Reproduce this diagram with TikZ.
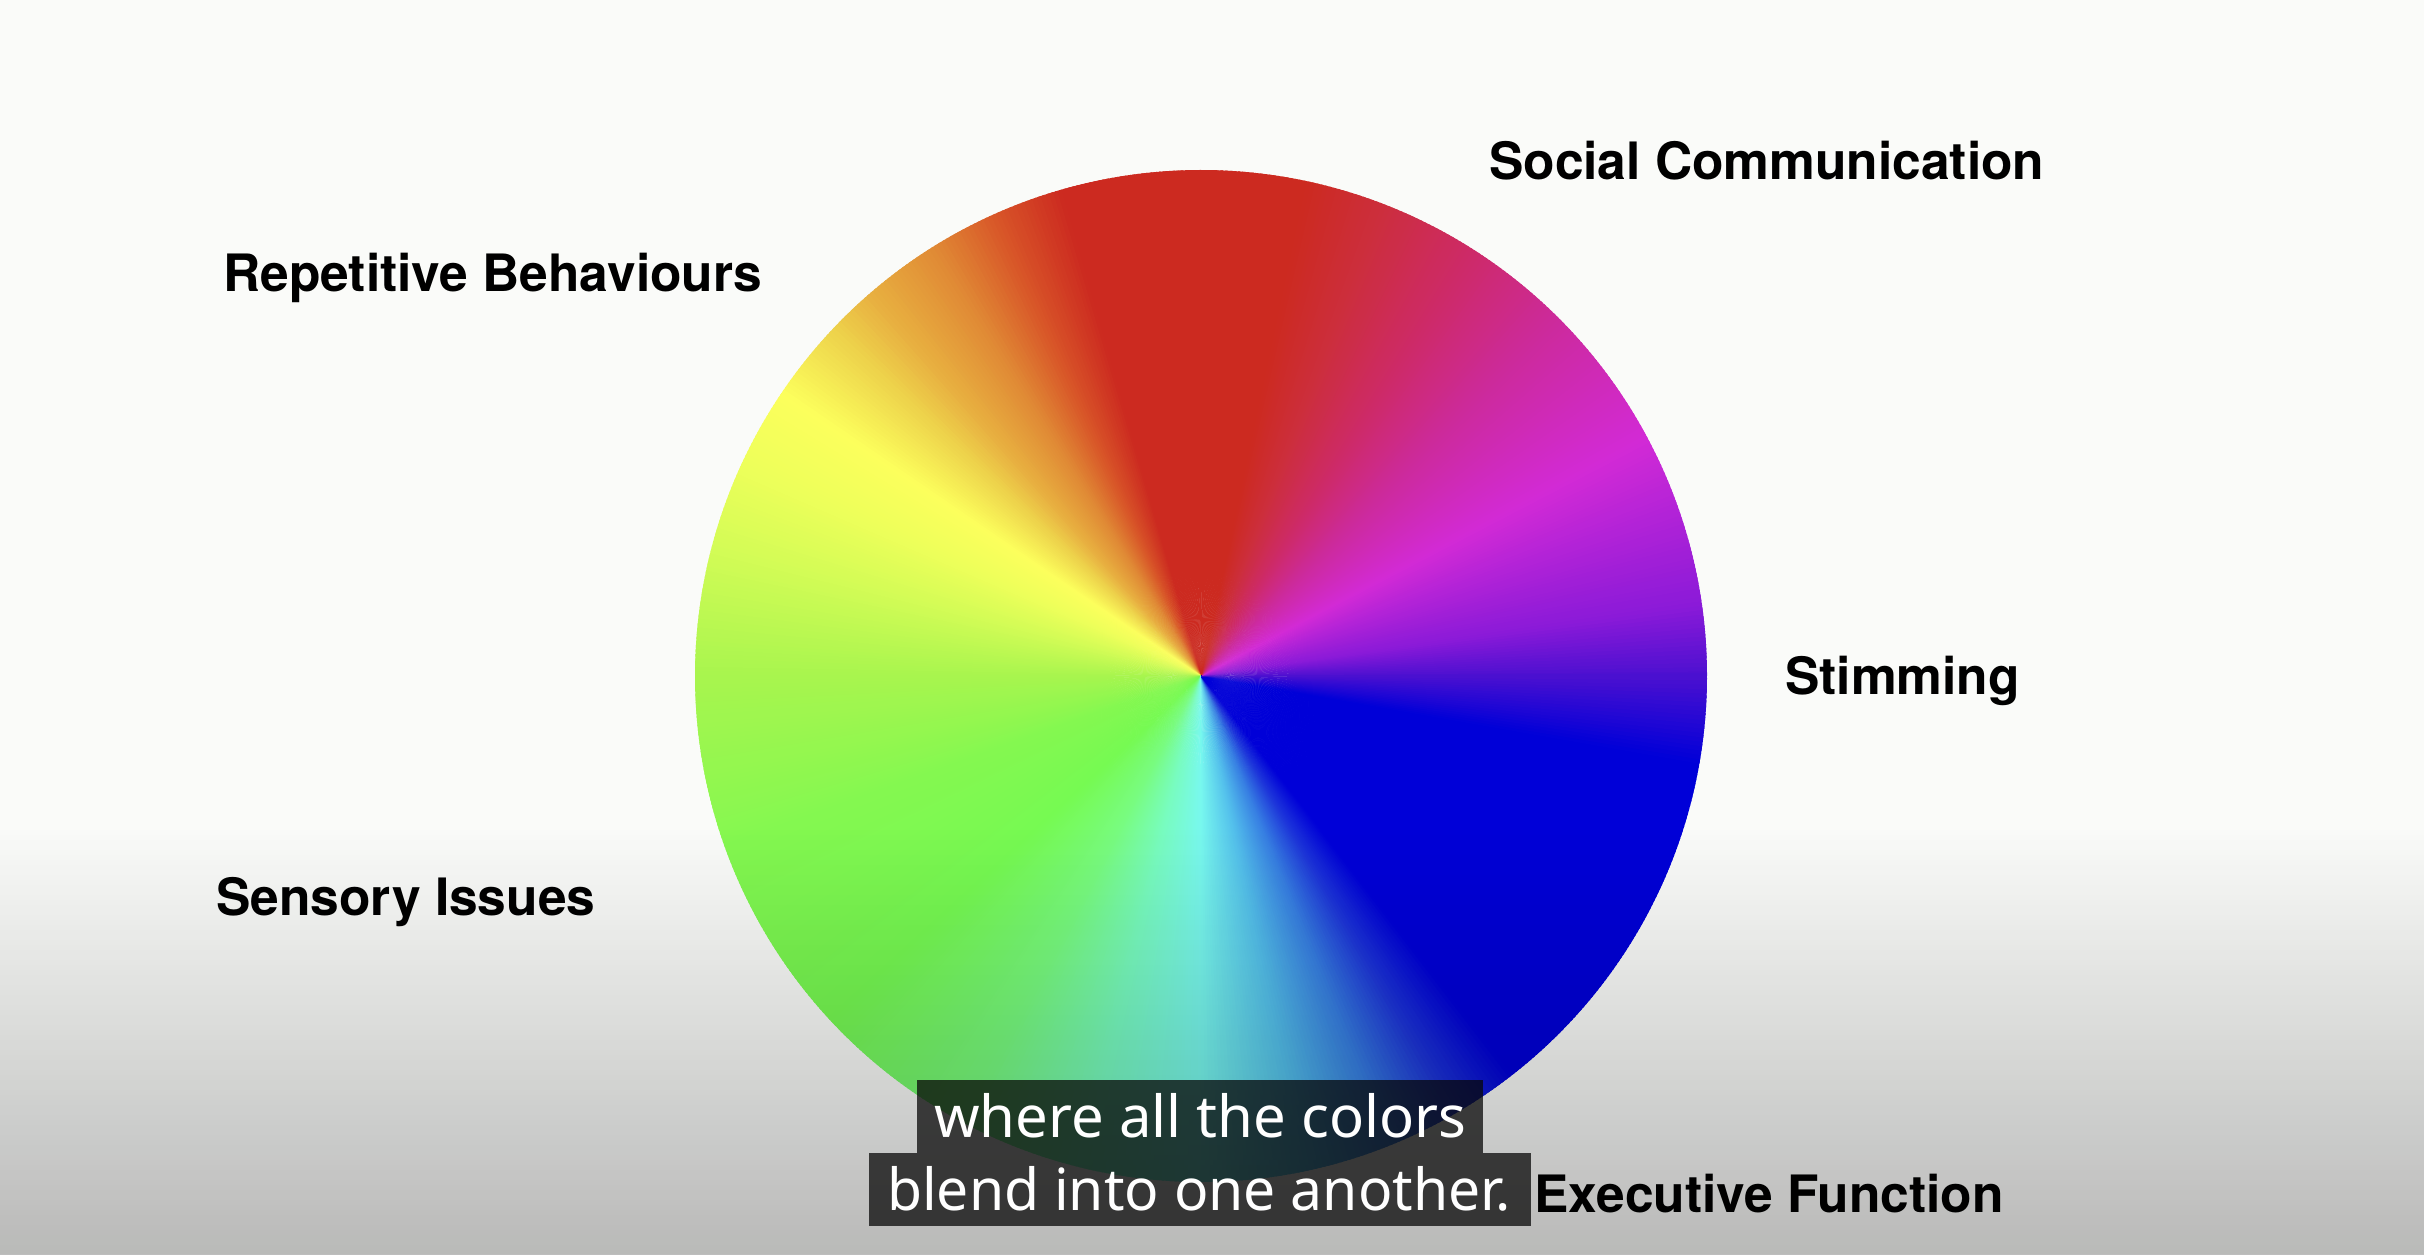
\documentclass[tikz,border=0pt]{standalone}
\usepackage{fontspec}
\setmainfont{TeX Gyre Heros}
\newfontfamily\subfont{Noto Sans}
\usepackage{graphicx}
\definecolor{bgc}{RGB}{250,251,249}
\definecolor{capbg}{RGB}{8,8,8}
\definecolor{s0}{HTML}{4C10D0}
\definecolor{s8}{HTML}{8A1AD8}
\definecolor{s28}{HTML}{D22AD6}
\definecolor{s45}{HTML}{CC2A9C}
\definecolor{s57}{HTML}{CD2A6A}
\definecolor{s69}{HTML}{CC2E3C}
\definecolor{s78}{HTML}{CC2A20}
\definecolor{s106}{HTML}{CC2A20}
\definecolor{s114}{HTML}{D85528}
\definecolor{s122}{HTML}{E08A35}
\definecolor{s131}{HTML}{E8B040}
\definecolor{s137}{HTML}{EED44C}
\definecolor{s146}{HTML}{FCFF5C}
\definecolor{s155}{HTML}{EEFF5A}
\definecolor{s165}{HTML}{D4FC56}
\definecolor{s180}{HTML}{A8F54E}
\definecolor{s200}{HTML}{84F850}
\definecolor{s223}{HTML}{76FA52}
\definecolor{s242}{HTML}{78FC80}
\definecolor{s256}{HTML}{78FCBF}
\definecolor{s270}{HTML}{78F8EE}
\definecolor{s282}{HTML}{54C1EC}
\definecolor{s292}{HTML}{377FE3}
\definecolor{s300}{HTML}{1E37DA}
\definecolor{s308}{HTML}{0000D8}
\definecolor{s350}{HTML}{0000D8}
\definecolor{s360}{HTML}{4C10D0}
\tikzset{
  lbl/.style={anchor=base west, inner sep=0pt, text=black,
    font=\fontsize{51.5}{60}\selectfont\bfseries},
  captext/.style={anchor=base west, inner sep=0pt, text=white,
    font=\subfont\fontsize{58}{66}\selectfont},
  capbox/.style={fill=capbg, fill opacity=0.75}
}
\begin{document}
\begin{tikzpicture}[x=1pt,y=1pt]
\useasboundingbox (0,0) rectangle (2424,1254);
\fill[bgc] (0,0) rectangle (2424,1254);
\coordinate (W) at (1201,578);
% colour wheel
\foreach \a/\b/\ca/\cb in {0/8/s0/s8, 8/28/s8/s28, 28/45/s28/s45, 45/57/s45/s57,
  57/69/s57/s69, 69/78/s69/s78, 78/106/s78/s106, 106/114/s106/s114,
  114/122/s114/s122, 122/131/s122/s131, 131/137/s131/s137, 137/146/s137/s146,
  146/155/s146/s155, 155/165/s155/s165, 165/180/s165/s180, 180/200/s180/s200,
  200/223/s200/s223, 223/242/s223/s242, 242/256/s242/s256, 256/270/s256/s270,
  270/282/s270/s282, 282/292/s282/s292, 292/300/s292/s300, 300/308/s300/s308,
  308/350/s308/s350, 350/360/s350/s360}{
  \pgfmathtruncatemacro\n{2*(\b-\a)-1}
  \foreach \k in {0,...,\n}{
    \pgfmathsetmacro\th{\a+\k*0.5}
    \pgfmathsetmacro\te{\th+0.8}
    \pgfmathsetmacro\p{100*(\k*0.5+0.25)/(\b-\a)}
    \fill[\cb!\p!\ca] (W) -- ++(\th:506) arc[start angle=\th, end angle=\te, radius=506] -- cycle;
  }
}
% labels
\node[lbl] (soc) at (1489,1074) {Social Communication};
\node[lbl] (rep) at (223,962) {Repetitive Behaviours};
\node[lbl] (stim) at (1785,559) {Stimming};
\node[lbl] (sens) at (216,339) {Sensory Issues};
\node[lbl] (exec) at (1534,42) {Executive Function};
% bottom video gradient
\foreach \i in {0,...,85}{
  \pgfmathsetmacro\op{0.26*(\i+0.5)/86}
  \pgfmathsetmacro\ya{429-5*\i}
  \pgfmathsetmacro\yb{429-5*(\i+1)}
  \fill[black, fill opacity=\op] (0,\yb) rectangle (2424,\ya);
}
% captions
\fill[capbox] (917,101) rectangle (1483,174);
\fill[capbox] (869,28) rectangle (1531,101);
\node[captext] (cap1) at (934,117) {\resizebox{532pt}{\height}{where all the colors}};
\node[captext] (cap2) at (887,44) {\resizebox{623pt}{\height}{blend into one another.}};
\end{tikzpicture}
\end{document}
